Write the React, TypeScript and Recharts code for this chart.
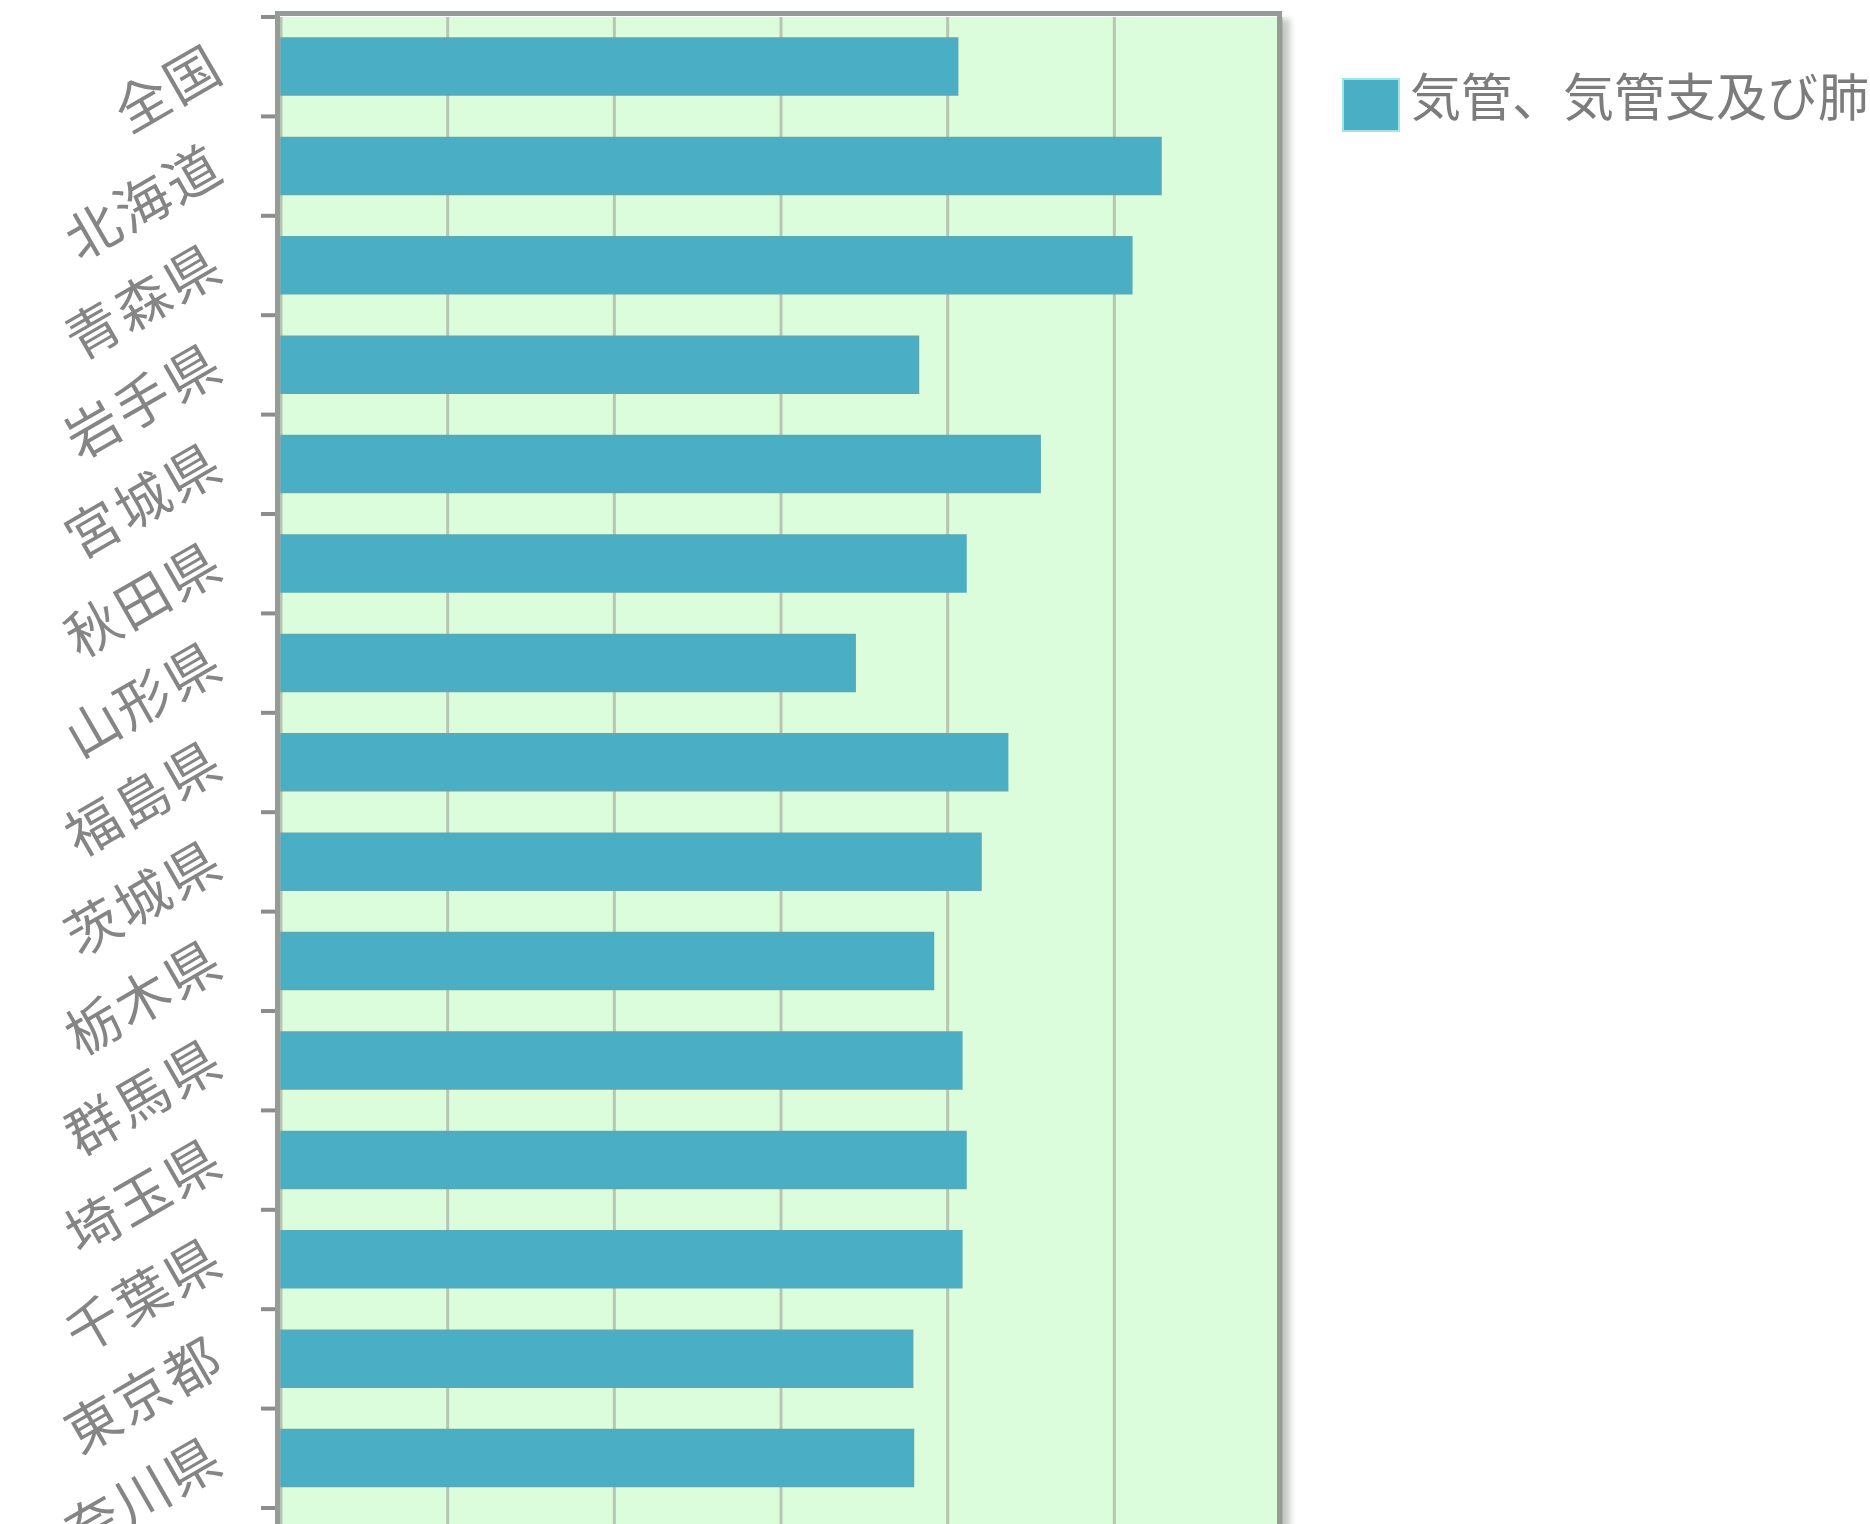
import { BarChart, Bar, XAxis, YAxis, CartesianGrid, Legend } from "recharts"

const prefectures = [
  "全国", "北海道", "青森県", "岩手県", "宮城県", "秋田県", "山形県", "福島県",
  "茨城県", "栃木県", "群馬県", "埼玉県", "千葉県", "東京都", "神奈川県",
]
const rates = [81.2, 105.6, 102.1, 76.5, 91.1, 82.2, 68.9, 87.2, 84.0, 78.3, 81.7, 82.2, 81.7, 75.8, 75.9]
const xTicks = [0, 20, 40, 60, 80, 100, 120]
const seriesName = "気管、気管支及び肺"

const data = prefectures.map((name, i) => ({ name, rate: rates[i] }))

const BAR = "#4aaec4"
const FONT = "'Noto Sans CJK JP', 'Noto Sans CJK SC', sans-serif"
const W = 1870
const VIEW_H = 1524
const TOP = 17
const AXIS_W = 281
const PLOT_W = 1000
const BAND = 99.4
// the plot runs on past the bottom of the picture
const PAD_BOTTOM = 120
const H = TOP + BAND * prefectures.length + PAD_BOTTOM

function PrefTick(props: any) {
  const { y, payload } = props
  const half = BAND / 2
  const ty = y - 10
  return (
    <g>
      {payload.value === prefectures[0] && (
        <line x1={261} x2={279} y1={y - half} y2={y - half} stroke="#8c8c8c" strokeWidth={4} />
      )}
      <line x1={261} x2={279} y1={y + half} y2={y + half} stroke="#8c8c8c" strokeWidth={4} />
      <text
        x={216}
        y={ty}
        textAnchor="end"
        dominantBaseline="central"
        transform={`rotate(-30 216 ${ty})`}
        fill="#858585"
        fontSize={54}
        letterSpacing={3}
        fontFamily={FONT}
      >
        {payload.value}
      </text>
    </g>
  )
}

function LegendBox() {
  return (
    <div style={{ display: "flex", alignItems: "flex-start", whiteSpace: "nowrap" }}>
      <div
        style={{
          width: 58,
          height: 54,
          marginTop: 14,
          background: BAR,
          border: "2px solid #a2e2ea",
          boxSizing: "border-box",
        }}
      />
      <span style={{ marginLeft: 10, fontSize: 51, lineHeight: "60px", color: "#7c7c7c", fontFamily: FONT }}>
        {seriesName}
      </span>
    </div>
  )
}

export default function App() {
  return (
    <div style={{ position: "absolute", left: 0, top: 0, width: W, height: VIEW_H, overflow: "hidden", background: "#fff" }}>
      <BarChart
        layout="vertical"
        width={W}
        height={H}
        data={data}
        margin={{ top: TOP, right: W - AXIS_W - PLOT_W, bottom: 0, left: 0 }}
      >
        <CartesianGrid horizontal={false} fill="#dcfddc" stroke="#b6c6b2" strokeWidth={3} />
        <XAxis type="number" domain={[0, 120]} ticks={xTicks} hide />
        <YAxis
          type="category"
          dataKey="name"
          width={AXIS_W}
          axisLine={false}
          tickLine={false}
          interval={0}
          padding={{ top: 0, bottom: PAD_BOTTOM }}
          tick={<PrefTick />}
        />
        <Legend
          layout="horizontal"
          verticalAlign="middle"
          align="center"
          wrapperStyle={{ left: 1342, top: 64, width: 560 }}
          content={() => <LegendBox />}
        />
        <Bar
          dataKey="rate"
          name={seriesName}
          fill={BAR}
          stroke="#5ea8b4"
          strokeWidth={1.5}
          barSize={57}
          isAnimationActive={false}
        />
      </BarChart>
      <div
        style={{
          position: "absolute",
          left: 275,
          top: 11,
          width: AXIS_W + PLOT_W - 275 + 1,
          height: H + 40,
          border: "5px solid #979b97",
          boxSizing: "border-box",
          boxShadow: "10px 6px 6px -2px rgba(0,0,0,0.22)",
          pointerEvents: "none",
        }}
      />
    </div>
  )
}
